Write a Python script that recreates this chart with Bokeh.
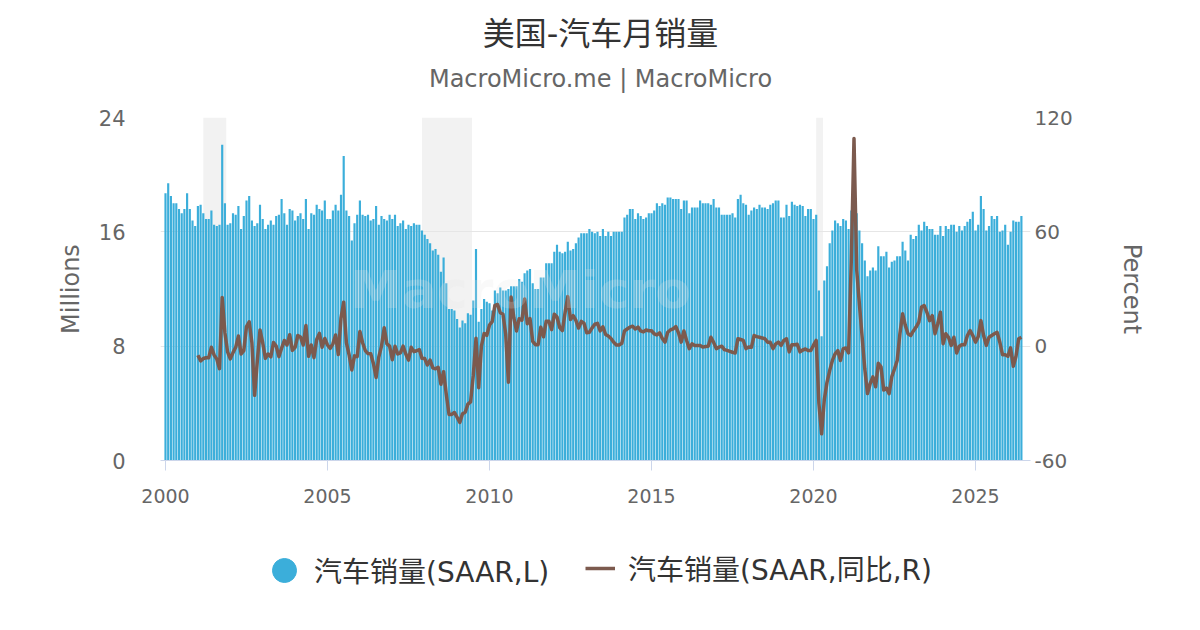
from bokeh.plotting import figure
from bokeh.layouts import column
from bokeh.models import Range1d, LinearAxis, FixedTicker, Label, Legend, LegendItem
from bokeh.embed import file_html
from bokeh.resources import INLINE

FONT = "DejaVu Sans, Noto Sans CJK SC"
BAR_COLOR = "#3BAEDA"
LINE_COLOR = "#7C5A4E"

# ---------------- data ----------------
title_text = "美国-汽车月销量"
subtitle_text = "MacroMicro.me | MacroMicro"
bar_label = "汽车销量(SAAR,L)"
line_label = "汽车销量(SAAR,同比,R)"
left_axis_title = "Millions"
right_axis_title = "Percent"

bar_start_year = 2000
line_start_year = 2001

# monthly vehicle sales, SAAR, millions (Jan 2000 .. Jun 2026)
sales_saar = [
    18.7, 19.4, 18.5, 18.0, 18.0, 17.6, 17.3, 17.6, 18.7, 17.6, 16.8, 16.4,
    17.8, 17.9, 17.3, 16.9, 16.9, 17.5, 16.5, 16.4, 16.5, 22.1, 18.0, 16.5,
    16.6, 17.3, 17.2, 17.8, 16.2, 17.1, 18.2, 18.5, 16.8, 16.4, 16.6, 17.9,
    16.9, 16.2, 16.5, 16.8, 16.5, 17.1, 17.2, 18.3, 17.3, 16.5, 17.6, 17.5,
    16.8, 17.1, 17.3, 16.9, 18.3, 16.2, 17.3, 17.2, 17.9, 17.6, 17.5, 18.2,
    16.9, 16.9, 17.5, 17.9, 17.5, 18.6, 21.3, 17.5, 17.1, 15.4, 16.6, 17.2,
    18.2, 17.2, 17.1, 17.2, 16.8, 16.9, 17.8, 16.5, 17.1, 16.9, 16.8, 17.2,
    16.9, 17.2, 16.4, 16.6, 16.8, 16.2, 16.5, 16.4, 16.6, 16.5, 16.5, 16.1,
    15.8, 15.5, 15.2, 14.7, 14.8, 14.4, 13.2, 14.2, 12.4, 10.6, 10.6, 10.5,
    9.9, 9.3, 9.8, 9.6, 10.3, 10.2, 11.2, 14.8, 9.7, 10.6, 11.3, 11.1,
    11.0, 10.5, 11.9, 11.7, 12.1, 11.9, 11.9, 12.0, 12.2, 12.2, 12.2, 12.7,
    12.5, 13.1, 13.3, 13.4, 12.4, 12.0, 12.0, 12.8, 12.8, 13.8, 13.8, 13.8,
    14.6, 15.1, 14.6, 14.5, 14.6, 15.3, 14.7, 14.8, 15.2, 15.6, 15.9, 15.9,
    15.9, 16.2, 16.0, 15.9, 16.0, 15.7, 16.2, 15.7, 16.0, 15.7, 16.0, 16.0,
    16.0, 16.0, 17.0, 17.2, 17.6, 17.6, 16.9, 17.3, 17.1, 16.9, 17.0, 17.3,
    17.3, 17.5, 18.0, 17.8, 18.0, 17.9, 18.4, 18.4, 18.3, 18.3, 18.3, 17.6,
    18.2, 18.2, 17.3, 17.7, 17.7, 17.7, 18.2, 18.0, 18.0, 18.0, 17.9, 18.3,
    17.7, 17.7, 17.2, 17.2, 17.2, 17.2, 17.3, 17.0, 18.3, 18.6, 18.0, 17.9,
    17.2, 17.5, 17.7, 17.6, 17.9, 17.7, 17.7, 17.6, 17.9, 18.0, 18.2, 18.2,
    17.0, 17.0, 17.9, 17.1, 18.1, 17.9, 17.8, 17.9, 17.8, 17.1, 17.6, 17.6,
    16.9, 17.2, 11.9, 8.7, 12.6, 13.6, 15.2, 16.1, 16.8, 16.6, 16.4, 16.9,
    16.8, 16.2, 17.5, 18.3, 17.3, 16.1, 15.2, 14.0, 12.9, 13.3, 13.5, 13.3,
    15.0, 14.3, 14.3, 14.6, 13.5, 13.9, 14.0, 14.3, 14.3, 15.3, 14.7, 14.0,
    15.8, 15.5, 15.7, 16.5, 16.1, 16.7, 16.4, 16.2, 16.2, 15.8, 15.8, 16.4,
    15.7, 16.4, 16.2, 16.5, 16.5, 16.0, 16.4, 16.1, 16.4, 16.7, 16.9, 17.4,
    16.1, 16.5, 18.5, 17.6, 16.1, 16.4, 17.1, 16.9, 17.1, 16.0, 16.1, 16.5,
    15.1, 16.0, 16.8, 16.7, 16.7, 17.1,
]

# year-over-year change, percent (Jan 2001 .. Jun 2026)
sales_yoy = [
    -4.8, -7.7, -6.5, -6.1, -6.1, -0.6, -4.6, -6.8, -11.8, 25.6, 7.1, -3.0,
    -6.7, -3.4, -0.6, 5.3, -4.1, -2.3, 10.3, 12.8, 1.8, -25.8, -7.8, 8.5,
    1.8, -6.4, -4.1, -5.6, 1.9, 0.0, -5.5, -1.1, 3.0, 0.6, 6.0, -2.2,
    -0.6, 5.6, 4.8, 0.6, 10.9, -5.3, 0.6, -6.0, 3.5, 6.7, -0.6, 4.0,
    0.6, -1.2, 1.2, 5.9, -4.4, 14.8, 23.1, 1.7, -4.5, -12.5, -5.1, -5.5,
    7.7, 1.8, -2.3, -3.9, -4.0, -9.1, -16.4, -5.7, 0.0, 9.7, 1.2, 0.0,
    -7.1, 0.0, -4.1, -3.5, 0.0, -4.1, -7.3, -0.6, -2.9, -2.4, -1.8, -6.4,
    -6.5, -9.9, -7.3, -11.4, -11.9, -11.1, -20.0, -13.4, -25.3, -35.8, -35.8, -34.8,
    -37.3, -40.0, -35.5, -34.7, -30.4, -29.2, -15.2, 4.2, -21.8, 0.0, 6.6, 5.7,
    11.1, 12.9, 21.4, 21.9, 17.5, 16.7, 6.3, -18.9, 25.8, 15.1, 8.0, 14.4,
    13.6, 24.8, 11.8, 14.5, 2.5, 0.8, 0.8, 10.0, 4.9, 13.1, 13.1, 8.7,
    16.8, 15.3, 9.8, 8.2, 17.7, 26.0, 14.0, 16.0, 13.5, 9.5, 13.0, 12.0,
    7.0, 7.3, 9.6, 11.5, 12.0, 8.0, 10.2, 6.1, 5.3, 4.0, 2.0, 0.6,
    0.6, 1.5, 8.0, 9.0, 10.0, 10.5, 9.0, 10.0, 8.0, 7.5, 8.5, 8.1,
    8.1, 6.5, 5.9, 7.0, 4.0, 2.1, 7.3, 8.5, 9.1, 10.3, 7.0, 2.1,
    8.0, 3.0, -1.3, 1.2, 0.4, 0.4, 0.4, -0.5, -0.2, 0.0, 4.7, 2.0,
    -1.3, -0.5, 0.0, -1.8, -2.2, -2.7, -3.2, -3.6, 3.9, 3.5, 3.0, -1.3,
    -0.4, -0.6, 5.6, 5.0, 4.7, 4.3, 3.9, 2.1, 2.0, -1.3, 1.2, 2.1,
    0.4, 3.0, 3.9, -3.0, 0.8, 0.8, 1.0, -3.0, -2.0, -1.5, -2.3, -2.3,
    0.5, 3.0, -30.0, -46.0, -28.0, -19.0, -12.8, -7.5, -4.0, -2.3, -7.5, -1.3,
    -1.0, -3.5, 45.0, 109.0, 40.0, 22.0, 5.0, -12.0, -24.9, -19.6, -16.1, -21.3,
    -9.0, -10.8, -23.0, -22.0, -24.9, -16.0, -12.0, -7.5, 6.5, 17.0, 10.9, 6.5,
    5.6, 8.0, 10.0, 12.6, 20.5, 21.3, 17.8, 13.4, 16.0, 6.5, 11.8, 17.8,
    1.3, 6.5, 4.7, 0.4, 4.7, -3.6, 0.0, 0.8, 0.8, 5.6, 8.2, 5.6,
    2.1, 5.0, 13.4, 5.6, 0.4, 4.7, 5.6, 6.5, 7.3, 2.1, -4.5, -4.5,
    -5.3, -0.9, -10.5, -5.3, 3.9, 4.7,
]

# recession periods (year, month)
recession_start = [(2001, 3), (2007, 12), (2020, 2)]
recession_end = [(2001, 11), (2009, 6), (2020, 4)]

x_tick_years = [2000, 2005, 2010, 2015, 2020, 2025]
left_ticks = [0, 8, 16, 24]
right_ticks = [-60, 0, 60, 120]

# ---------------- derived positions ----------------
x_bars = [bar_start_year + i / 12 for i in range(len(sales_saar))]
x_line = [line_start_year + i / 12 for i in range(len(sales_yoy))]
rec_left = [y + (m - 1) / 12 for (y, m) in recession_start]
rec_right = [y + (m - 0.5) / 12 for (y, m) in recession_end]

W = 1184
TITLE_H = 97
MAIN_H = 423
LEG_H = 94
FRAME_L, FRAME_R = 160, 1030

PX_PER_YEAR = 32.4
x0 = 2000 - 5 / PX_PER_YEAR
x1 = 2000 + 865 / PX_PER_YEAR


def bare_fig(height):
    # frames in a column are aligned with the main chart's frame (160..1030 px)
    f = figure(width=W, height=height, output_backend="svg", toolbar_location=None,
               x_range=Range1d(FRAME_L, FRAME_R), y_range=Range1d(height, 0),
               x_axis_type=None, y_axis_type=None, min_border=0, title=None)
    f.outline_line_color = None
    f.background_fill_color = "white"
    f.border_fill_color = "white"
    f.xgrid.visible = False
    f.ygrid.visible = False
    return f


# ---------------- title block ----------------
tf = bare_fig(TITLE_H)
tf.add_layout(Label(x=600, y=33, text=title_text, text_font=FONT, text_font_size="32px",
                    text_color="#333333", text_align="center", text_baseline="middle"))
tf.add_layout(Label(x=600, y=78, text=subtitle_text, text_font=FONT, text_font_size="24px",
                    text_color="#666666", text_align="center", text_baseline="middle"))

# ---------------- main chart ----------------
p = figure(width=W, height=MAIN_H, output_backend="svg", toolbar_location=None,
           title=None,
           x_range=Range1d(x0, x1), y_range=Range1d(left_ticks[0], left_ticks[-1]),
           min_border_left=FRAME_L, min_border_right=W - FRAME_R,
           min_border_top=20, min_border_bottom=60)
p.outline_line_color = None
p.background_fill_color = "white"
p.border_fill_color = "white"
p.extra_y_ranges = {"pct": Range1d(right_ticks[0], right_ticks[-1])}

p.quad(left=rec_left, right=rec_right, bottom=left_ticks[0], top=left_ticks[-1],
       fill_color="#f2f2f2", line_color=None, level="underlay")

p.vbar(x=x_bars, top=sales_saar, bottom=0, width=0.8 / 12,
       fill_color=BAR_COLOR, line_color=None)

p.add_layout(Label(x=2000 + (520 - 165) / PX_PER_YEAR, y=11.9, text="MacroMicro",
                   text_font=FONT, text_font_size="52px", text_font_style="bold",
                   text_color="#e4e4e4", text_alpha=0.22,
                   text_align="center", text_baseline="middle"))

r_line = p.line(x=x_line, y=sales_yoy, y_range_name="pct",
                line_color=LINE_COLOR, line_width=3.5, line_join="round")

lax = p.left[0]
lax.ticker = FixedTicker(ticks=left_ticks)
lax.major_label_overrides = {t: str(t) for t in left_ticks}
lax.axis_line_color = None
lax.major_tick_line_color = None
lax.minor_tick_line_color = None
lax.major_tick_out = 0
lax.major_tick_in = 0
lax.major_label_standoff = 35
lax.major_label_text_font = FONT
lax.major_label_text_font_size = "21px"
lax.major_label_text_color = "#666666"
lax.axis_label = left_axis_title
lax.axis_label_text_font = FONT
lax.axis_label_text_font_size = "24px"
lax.axis_label_text_font_style = "normal"
lax.axis_label_text_color = "#666666"
lax.axis_label_standoff = 11

rax = LinearAxis(y_range_name="pct", ticker=FixedTicker(ticks=right_ticks))
rax.major_label_overrides = {t: str(t) for t in right_ticks}
rax.axis_line_color = None
rax.major_tick_line_color = None
rax.minor_tick_line_color = None
rax.major_tick_out = 0
rax.major_tick_in = 0
rax.major_label_standoff = 4
rax.major_label_text_font = FONT
rax.major_label_text_font_size = "20px"
rax.major_label_text_color = "#666666"
rax.axis_label = right_axis_title
rax.axis_label_text_font = FONT
rax.axis_label_text_font_size = "24px"
rax.axis_label_text_font_style = "normal"
rax.axis_label_text_color = "#666666"
rax.axis_label_standoff = 42
p.add_layout(rax, "right")

bax = p.below[0]
bax.ticker = FixedTicker(ticks=x_tick_years)
bax.major_label_overrides = {t: str(t) for t in x_tick_years}
bax.axis_line_color = "#ccd6eb"
bax.major_tick_line_color = "#ccd6eb"
bax.minor_tick_line_color = None
bax.major_tick_out = 10
bax.major_tick_in = 0
bax.major_label_standoff = 18
bax.major_label_text_font = FONT
bax.major_label_text_font_size = "19px"
bax.major_label_text_color = "#666666"

p.xgrid.visible = False
p.ygrid.grid_line_color = "#e6e6e6"
p.ygrid.grid_line_width = 1

# ---------------- legend block ----------------
lf = bare_fig(LEG_H)
# keyed renderers with one point placed off-screen, only their legend glyphs show
r_dot = lf.scatter(x=[-1000], y=[-1000], size=26, marker="circle",
                   fill_color=BAR_COLOR, line_color=BAR_COLOR)
r_leg_line = lf.line(x=[-1000, -999], y=[-1000, -1000], line_color=LINE_COLOR, line_width=3.5)
leg1 = Legend(items=[LegendItem(label=bar_label, renderers=[r_dot])],
              location=(94, 14), glyph_width=60, glyph_height=60,
              label_standoff=0, padding=0, margin=0,
              border_line_color=None, background_fill_alpha=0,
              label_text_font=FONT, label_text_font_size="28px",
              label_text_color="#333333")
leg2 = Legend(items=[LegendItem(label=line_label, renderers=[r_leg_line])],
              location=(425, 26), glyph_width=30, glyph_height=30,
              label_height=30, label_standoff=13, padding=0, margin=0,
              border_line_color=None, background_fill_alpha=0,
              label_text_font=FONT, label_text_font_size="28px",
              label_text_color="#333333")
lf.add_layout(leg1)
lf.add_layout(leg2)

assert len(sales_saar) == 318 and len(sales_yoy) == 306

page = column(tf, p, lf, spacing=0)
open("out.html", "w").write(file_html(page, INLINE))
